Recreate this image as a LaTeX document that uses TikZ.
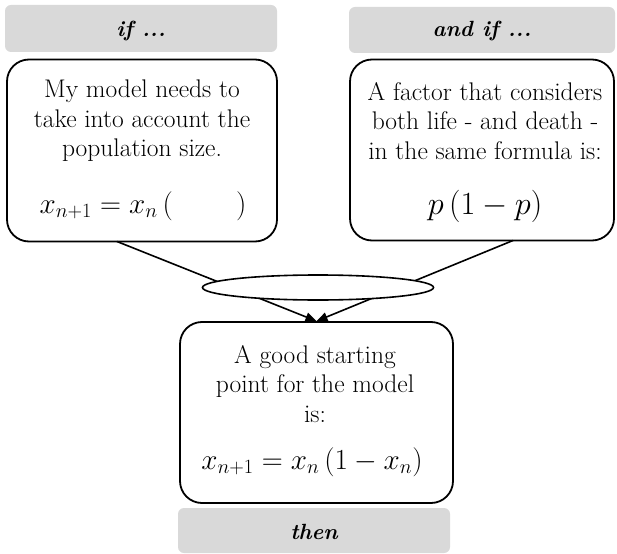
\documentclass[tikz,border=0pt]{standalone}
\usepackage{fontspec}
\usepackage{graphicx}
\usetikzlibrary{shapes.geometric,arrows.meta}
\definecolor{tabgray}{HTML}{D9D9D9}
\newcommand{\tallstrut}{\rule[-5pt]{0pt}{22pt}}
\tikzset{
  tabbox/.style={fill=tabgray, rounded corners=6pt, inner sep=0pt},
  tabtext/.style={inner sep=0pt, font=\fontsize{22}{26}\selectfont\bfseries\itshape},
  mainbox/.style={draw, line width=1.8pt, rounded corners=22pt, fill=white, inner sep=0pt},
  bodytext/.style={align=center, inner sep=0pt,
    font=\fontsize{25.5}{29.5}\selectfont},
  mathtext/.style={inner sep=0pt, font=\fontsize{24}{29}\selectfont},
  link/.style={line width=1.6pt, -{Triangle[length=11pt,width=9pt]}},
}
\begin{document}
\begin{tikzpicture}[x=1pt,y=-1pt]
\useasboundingbox (0,0) rectangle (617,553);
% tabs
\node[tabbox, minimum width=272pt, minimum height=47pt] (tab1) at (141,28.5) {};
\node[tabtext] (tab1t) at (141,31) {if ...};
\node[tabbox, minimum width=266pt, minimum height=46pt] (tab2) at (482,30) {};
\node[tabtext] (tab2t) at (482,31) {and if ...};
\node[tabbox, minimum width=272pt, minimum height=45pt] (tab3) at (314,530.5) {};
\node[tabtext] (tab3t) at (314,532) {then};
% boxes
\node[mainbox, minimum width=270pt, minimum height=182pt] (box1) at (142,150.5) {};
\node[mainbox, minimum width=264pt, minimum height=181pt] (box2) at (482,150) {};
\node[mainbox, minimum width=273pt, minimum height=181pt] (box3) at (316.5,412.5) {};
% connectors
\coordinate (s1) at (117,241.5);
\coordinate (s2) at (513,240.5);
\draw[link] (s1) -- (box3.north);
\draw[link] (s2) -- (box3.north);
\node[draw, line width=1.6pt, fill=white, ellipse, minimum width=231pt, minimum height=25pt, inner sep=0pt] (ell) at (318,287.5) {};
% texts
\node[bodytext] (t1) at (142,121) {My model needs to\\take into account the\\population size.};
\node[mathtext] (f1) at (143,206) {\scalebox{1.17}{$x_{n+1}=x_{n}\left(\tallstrut\hspace{54pt}\right)$}};
\node[bodytext] (t2) at (485,121) {A factor that considers\\both life - and death -\\in the same formula is:};
\node[mathtext] (f2) at (485,206) {\scalebox{1.3}{$p\left(\tallstrut 1-p\right)$}};
\node[bodytext] (t3) at (315,384) {A good starting\\point for the model\\is:};
\node[mathtext] (f3) at (312,462) {\scalebox{1.17}{$x_{n+1}=x_{n}\left(\tallstrut 1-x_{n}\right)$}};
\end{tikzpicture}
\end{document}
